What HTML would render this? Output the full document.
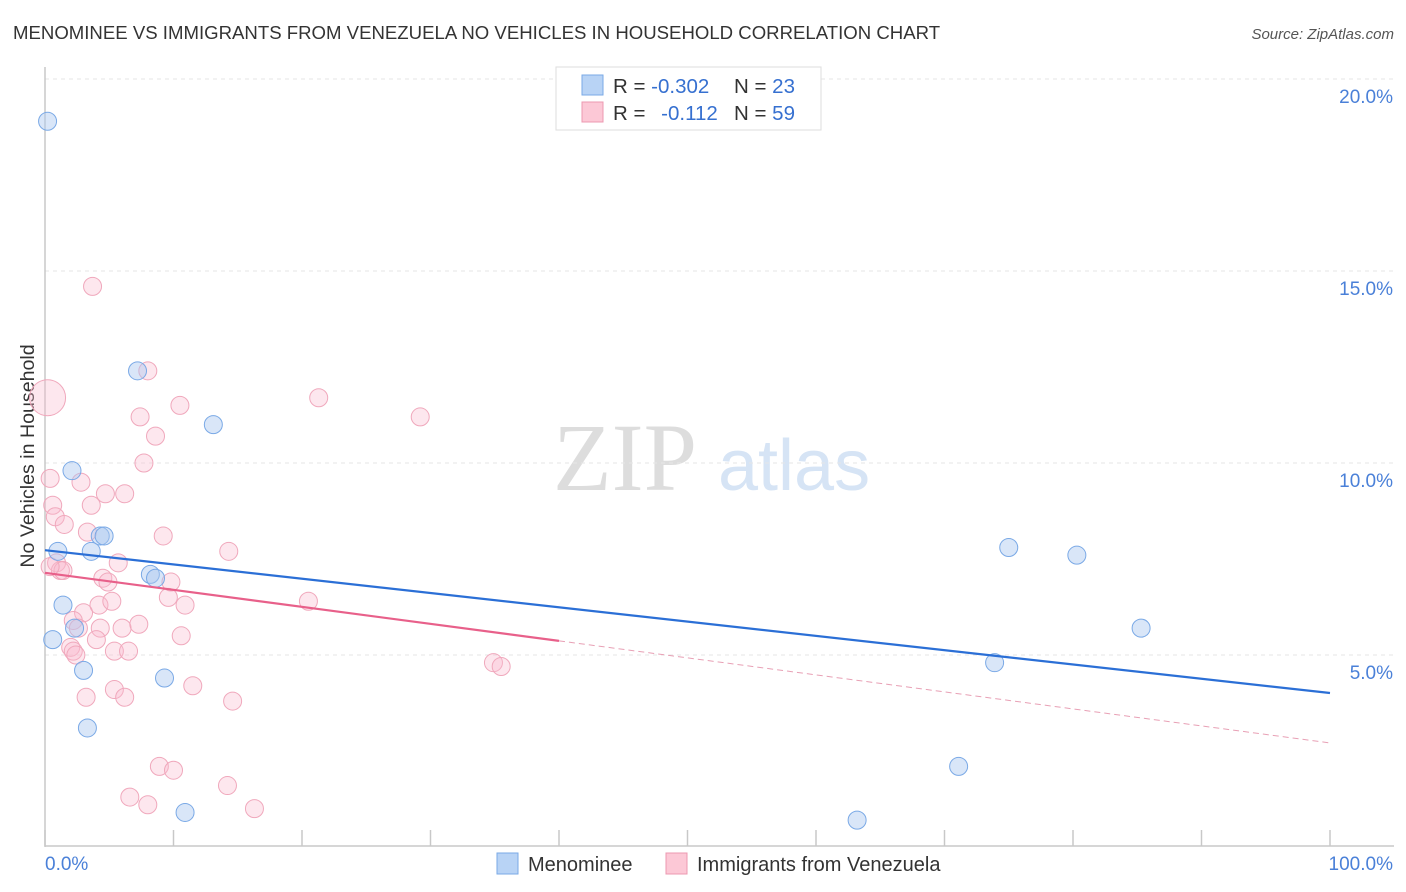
<!DOCTYPE html>
<html><head><meta charset="utf-8"><style>
body{margin:0;background:#fff;font-family:"Liberation Sans",sans-serif;}
svg{display:block}
</style></head><body>
<svg id="c" width="1406" height="892" xmlns="http://www.w3.org/2000/svg">
<text x="13" y="39" font-size="18.6" fill="#333">MENOMINEE VS IMMIGRANTS FROM VENEZUELA NO VEHICLES IN HOUSEHOLD CORRELATION CHART</text>
<text x="1394" y="39" font-size="15" fill="#555" font-style="italic" text-anchor="end">Source: ZipAtlas.com</text>
<text transform="translate(34,456) rotate(-90)" font-size="19.6" fill="#333" text-anchor="middle">No Vehicles in Household</text>
<g><text x="553" y="490" font-size="96" fill="#ddd" font-family="Liberation Serif,serif">ZIP</text><text x="718" y="490" font-size="72" fill="#d6e4f5">atlas</text></g>
<g id="grid"></g><g id="marks"></g>
<g>
<rect x="556" y="67" width="265" height="63" fill="#fff" stroke="#ddd"/>
<rect x="582" y="75" width="21" height="20" fill="#b8d3f5" stroke="#7aa9e6"/>
<rect x="582" y="102" width="21" height="20" fill="#fcc8d6" stroke="#ec98b0"/>
<text x="613" y="93" font-size="20.5" fill="#333">R = <tspan fill="#3670d0">-0.302</tspan></text>
<text x="734" y="93" font-size="20.5" fill="#333">N = <tspan fill="#3670d0">23</tspan></text>
<text x="613" y="120" font-size="20.5" fill="#333">R = <tspan fill="#3670d0" dx="10">-0.112</tspan></text>
<text x="734" y="120" font-size="20.5" fill="#333">N = <tspan fill="#3670d0">59</tspan></text>
</g>
<g>
<rect x="497" y="853" width="21" height="21" fill="#b8d3f5" stroke="#7aa9e6"/>
<text x="528" y="871" font-size="20" fill="#333">Menominee</text>
<rect x="666" y="853" width="21" height="21" fill="#fcc8d6" stroke="#ec98b0"/>
<text x="697" y="871" font-size="20" fill="#333">Immigrants from Venezuela</text>
</g>
</svg>
<script>
const yTicks=[5,10,15,20];
const yTickLabels=["5.0%","10.0%","15.0%","20.0%"];
const xTickLabels=["0.0%","100.0%"];
const blueX=[0.2,7.2,13.1,2.1,4.3,4.6,1.0,3.6,8.2,8.6,1.4,0.6,2.3,3.0,9.3,3.3,10.9,75.0,80.3,85.3,73.9,71.1,63.2];
const blueY=[18.9,12.4,11.0,9.8,8.1,8.1,7.7,7.7,7.1,7.0,6.3,5.4,5.7,4.6,4.4,3.1,0.9,7.8,7.6,5.7,4.8,2.1,0.7];
const pinkX=[3.7,8.0,0.2,21.3,10.5,29.2,7.4,8.6,7.7,0.4,2.8,6.2,4.7,0.6,3.6,0.8,1.5,3.3,9.2,14.3,0.9,1.2,1.4,5.7,4.5,4.9,9.8,9.6,10.9,4.2,5.2,20.5,3.0,2.2,2.6,4.3,6.0,7.3,10.6,4.0,2.0,2.2,2.4,5.4,6.5,34.9,35.5,3.2,5.4,6.2,11.5,14.6,8.9,10.0,6.6,8.0,14.2,16.3,0.4];
const pinkY=[14.6,12.4,11.7,11.7,11.5,11.2,11.2,10.7,10.0,9.6,9.5,9.2,9.2,8.9,8.9,8.6,8.4,8.2,8.1,7.7,7.4,7.2,7.2,7.4,7.0,6.9,6.9,6.5,6.3,6.3,6.4,6.4,6.1,5.9,5.7,5.7,5.7,5.8,5.5,5.4,5.2,5.1,5.0,5.1,5.1,4.8,4.7,3.9,4.1,3.9,4.2,3.8,2.1,2.0,1.3,1.1,1.6,1.0,7.3];
const pinkR=[9,9,18,9,9,9,9,9,9,9,9,9,9,9,9,9,9,9,9,9,9,9,9,9,9,9,9,9,9,9,9,9,9,9,9,9,9,9,9,9,9,9,9,9,9,9,9,9,9,9,9,9,9,9,9,9,9,9,9];
const blueTrend=[7.73,4.01];
const pinkTrend=[7.14,2.71];
const NS="http://www.w3.org/2000/svg";
const X=v=>45+v*12.85, Y=v=>847-v*38.4;
function mk(t,a,p){const e=document.createElementNS(NS,t);for(const k in a)e.setAttribute(k,a[k]);p.appendChild(e);return e;}
const g=document.getElementById('grid'),m=document.getElementById('marks');
yTicks.forEach((t,i)=>{
 const l=mk('line',{x1:45,x2:1394,y1:Y(t),y2:Y(t),stroke:'#e6e6e6','stroke-dasharray':'4,4'},g);
 
 
 const tx=mk('text',{x:1393,y:Y(t)+24,'font-size':19,fill:'#4a80d8','text-anchor':'end'},g);
 tx.textContent=yTickLabels[i];
 
 
});
const ax=mk('line',{x1:45,x2:45,y1:67,y2:847,stroke:'#c8c8c8','stroke-width':1.5},g);


const bx=mk('line',{x1:45,x2:1394,y1:846,y2:846,stroke:'#c8c8c8','stroke-width':1.5},g);


for(let i=0;i<=10;i++){const t=mk('line',{x1:X(i*10),x2:X(i*10),y1:830,y2:846,stroke:'#c8c8c8','stroke-width':1.5},g);
 
 }
xTickLabels.forEach((s,i)=>{const t=mk('text',{x:i?1393:45,y:870,'font-size':19,fill:'#4a80d8','text-anchor':i?'end':'start'},g);t.textContent=s;
 
 });
pinkX.forEach((x,i)=>{const c=mk('circle',{cx:X(x),cy:Y(pinkY[i]),r:pinkR[i],fill:'rgba(248,185,205,0.35)',stroke:'#f0a8bc','stroke-width':1},m);
 
 });
blueX.forEach((x,i)=>{const c=mk('circle',{cx:X(x),cy:Y(blueY[i]),r:9,fill:'rgba(170,200,240,0.45)',stroke:'#7aa9e6','stroke-width':1},m);
 
 });
const pm=pinkTrend[0]+(pinkTrend[1]-pinkTrend[0])*0.4;
const p1=mk('line',{x1:X(0),y1:Y(pinkTrend[0]),x2:X(40),y2:Y(pm),stroke:'#e8608a','stroke-width':2.2},m);


const p2=mk('line',{x1:X(40),y1:Y(pm),x2:X(100),y2:Y(pinkTrend[1]),stroke:'#e8a0b5','stroke-width':1,'stroke-dasharray':'6,4'},m);


const b1=mk('line',{x1:X(0),y1:Y(blueTrend[0]),x2:X(100),y2:Y(blueTrend[1]),stroke:'#2b6fd6','stroke-width':2.2},m);


</script>
</body></html>
